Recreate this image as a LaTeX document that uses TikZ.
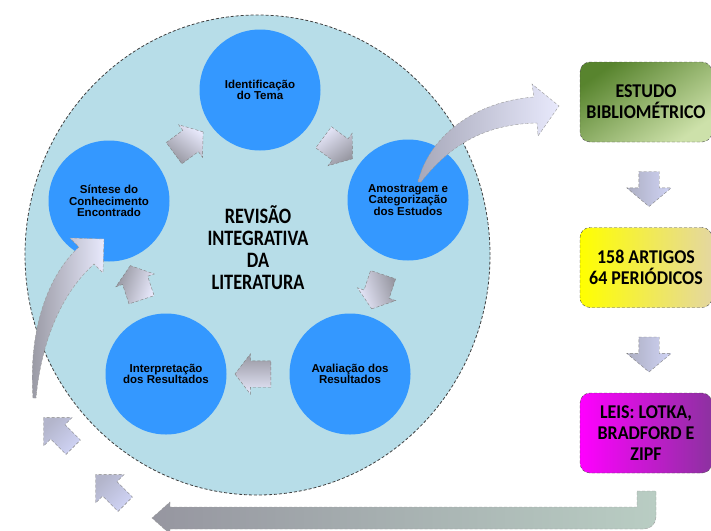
\documentclass[tikz,border=0pt]{standalone}
\usepackage{fontspec}
\newfontfamily\arialfont{Liberation Sans}
\newfontfamily\calibrifont{Carlito}[FakeStretch=0.92]
\newfontfamily\calibritall{Carlito}[FakeStretch=0.83]
\usepackage{tikz}
\usetikzlibrary{positioning,calc,shapes.geometric,shapes.arrows}
\definecolor{ciclofill}{RGB}{183,221,232}
\definecolor{faseblue}{RGB}{52,152,255}
\definecolor{lav}{RGB}{208,212,246}
\definecolor{lavlight}{RGB}{232,233,252}
\definecolor{setagrey}{RGB}{150,150,160}
\definecolor{verdeesc}{RGB}{88,132,46}
\definecolor{verdecla}{RGB}{205,225,170}
\definecolor{amarelo}{RGB}{255,255,0}
\definecolor{bege}{RGB}{228,215,160}
\definecolor{magenta1}{RGB}{255,0,255}
\definecolor{roxo}{RGB}{140,50,160}
\definecolor{cinzaverde}{RGB}{185,205,195}

\begin{document}
\begin{tikzpicture}[x=1pt,y=-1pt,
    fase/.style={circle, fill=faseblue, minimum size=121pt, inner sep=0pt, align=center,
        font=\arialfont\bfseries\fontsize{11.5}{11.5}\selectfont},
    resultado/.style={draw=black!70, densely dashed, rounded corners=10pt, minimum width=132pt,
        minimum height=80pt, inner sep=0pt, align=center,
        font=\calibrifont\bfseries\fontsize{19.5}{21}\selectfont},
    setafluxo/.style={single arrow, draw=gray, densely dashed, inner xsep=0pt, inner ysep=13pt,
        minimum height=36pt, single arrow head extend=7pt, single arrow tip angle=105},
    setadesce/.style={single arrow, draw=gray, densely dashed, inner xsep=0pt, inner ysep=10pt,
        minimum height=35pt, single arrow head extend=12pt, single arrow tip angle=100,
        rotate=-90, top color=setagrey!60!lav, bottom color=lav, shading angle=90},
    setafora/.style={single arrow, draw=gray, densely dashed, inner xsep=0pt, inner ysep=10pt,
        minimum height=42pt, single arrow head extend=10pt, single arrow tip angle=90,
        rotate=135, top color=lav, bottom color=setagrey!50!lav, shading angle=-135},
    setagrande/.style={draw=gray!80, densely dashed, line width=0.4pt}]
    \useasboundingbox (0,0) rectangle (711,530);
    \clip (0,0) rectangle (711,530);

    % Ciclo da revisao
    \node[ellipse, draw=black!75, fill=ciclofill, dash pattern=on 3pt off 2pt, line width=0.8pt,
        minimum width=465pt, minimum height=480pt] (ciclo) at (257.5,255) {};
    \node[fase] (ident) at (260,90) {Identificação\\do Tema};
    \node[fase] (amos) at (408,200) {Amostragem e\\Categorização\\dos Estudos};
    \node[fase] (aval) at (350,374) {Avaliação dos\\Resultados};
    \node[fase] (interp) at (166,374) {Interpretação\\dos Resultados};
    \node[fase] (sint) at (109,201) {Síntese do\\Conhecimento\\Encontrado};
    \node[font=\calibritall\bfseries\fontsize{22}{22}\selectfont, align=center] (rev) at (258,248)
        {REVISÃO\\INTEGRATIVA\\DA\\LITERATURA};

    % Setas entre as fases
    \foreach \a/\b in {sint/ident, ident/amos, amos/aval, aval/interp, interp/sint}
        \path let \p1=($(\b)-(\a)$), \n1={atan2(\y1,\x1)} in
            node[setafluxo, rotate=\n1, top color=lavlight, bottom color=setagrey,
                shading angle={-1*(\n1)}] (f\a) at ($(\a)!0.5!(\b)$) {};

    % Seta curva para o estudo bibliometrico
    \path[setagrande, left color=setagrey!70!lav, right color=lavlight]
        (418,182) .. controls (428,140) and (470,102) .. (534,97) -- (532,84) -- (559,106)
        -- (538,136) -- (537,123) .. controls (485,124) and (450,145) .. (421,182) -- cycle;

    % Seta curva de retorno
    \path[setagrande, left color=setagrey, right color=lavlight]
        (33,398) .. controls (28,330) and (48,275) .. (79,247) -- (70,238) -- (104,239)
        -- (103,273) -- (94,264) .. controls (65,290) and (42,335) .. (36,398) -- cycle;

    % Setas externas
    \node[setafora] (fora1) at (62,436) {};
    \node[setafora] (fora2) at (114,493) {};

    % Estudo bibliometrico
    \node[resultado, top color=verdeesc, bottom color=verdecla, shading angle=35] (estudo) at (646,102)
        {ESTUDO\\BIBLIOMÉTRICO};
    \node[resultado, left color=amarelo, right color=bege] (artigos) at (646,267.5)
        {158 ARTIGOS\\64 PERIÓDICOS};
    \node[resultado, left color=magenta1, right color=roxo] (leis) at (646,433)
        {LEIS: LOTKA,\\BRADFORD E\\ZIPF};
    \node[setadesce] (d1) at ($(estudo.south)!0.5!(artigos.north)+(3,0)$) {};
    \node[setadesce] (d2) at ($(artigos.south)!0.5!(leis.north)+(3,0)$) {};

    % Seta inferior
    \path[setagrande, left color=setagrey, middle color=lav, right color=cinzaverde]
        (637,491) -- (656,491) -- (656,517) to[out=-90,in=0] (644,529) -- (170,529) -- (170,534)
        -- (152,518) -- (170,502) -- (170,507) -- (637,507) -- cycle;
\end{tikzpicture}
\end{document}
